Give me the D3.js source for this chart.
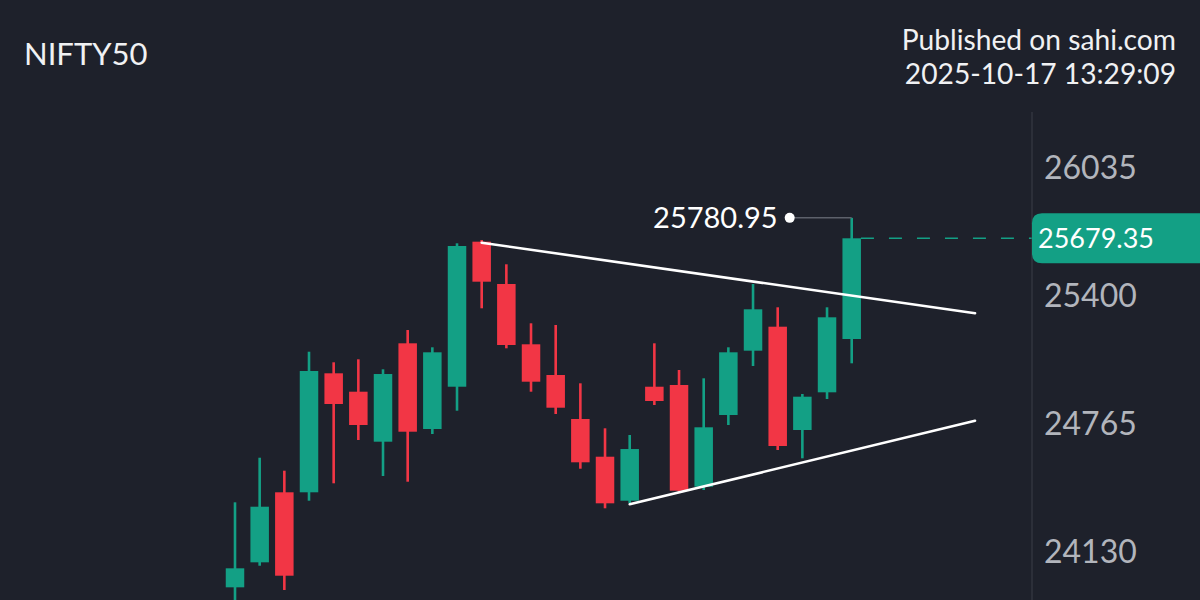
<!DOCTYPE html>
<html>
<head>
<meta charset="utf-8">
<script src="https://cdn.jsdelivr.net/npm/d3@7"></script>
<style>
  html, body { margin: 0; padding: 0; background: #1e212b; }
  svg { display: block; }
  text { font-family: Lato, "Open Sans", sans-serif; }
</style>
</head>
<body>
<svg id="chart" width="1200" height="600"></svg>
<script>
// ---- Data ----
const title = "NIFTY50";
const publishedLines = ["Published on sahi.com", "2025-10-17 13:29:09"];

const opens  = [23945.6, 24069.8, 24417.6, 24417.6, 25008.7, 24917.3, 24669.0, 25157.7, 24732.0, 24942.1,
                25662.5, 25452.3, 25152.8, 25000.3, 24781.7, 24594.4, 24375.8, 24942.1, 24950.6, 24445.4,
                24801.6, 25121.0, 25240.2, 24727.1, 24914.3, 25179.1];
const highs  = [24367.9, 24589.4, 24524.9, 25116.0, 25063.4, 25078.3, 25028.6, 25223.8, 25137.9, 25654.5,
                25670.9, 25550.2, 25257.1, 25248.7, 24959.0, 24735.5, 24702.2, 25157.7, 25025.1, 24983.9,
                25137.9, 25452.3, 25336.6, 24905.9, 25336.6, 25780.95];
const lows   = [23857.7, 24052.9, 23932.2, 24375.8, 24462.3, 24677.4, 24498.5, 24470.2, 24707.2, 24822.9,
                25331.6, 25132.9, 24917.3, 24806.5, 24534.8, 24338.1, 24364.4, 24851.2, 24416.6, 24429.0,
                24751.9, 25045.0, 24627.7, 24586.5, 24881.1, 25058.4];
const closes = [24040.0, 24346.0, 24003.3, 25020.2, 24856.2, 24751.9, 25005.2, 24718.6, 25113.0, 25641.1,
                25463.8, 25149.3, 24967.0, 24837.8, 24566.6, 24362.9, 24632.6, 24871.1, 24425.5, 24740.5,
                25113.0, 25326.6, 24647.6, 24892.5, 25286.9, 25679.35];

const tickValues = [26035, 25400, 24765, 24130];
const lastPrice = 25679.35;
const highMark = 25780.95;

// Trend lines: [candle index, price]
const upperTrend = [[10, 25657.5], [30, 25306.8]];
const lowerTrend = [[16, 24358.0], [30, 24773.2]];

// ---- Colours ----
const bg = "#1e212b";
const up = "#13a085";
const down = "#f23645";

// ---- Scales ----
const x = d3.scaleLinear().domain([0, 25]).range([235, 851.7]);
const y = d3.scaleLinear().domain([24130, 26035]).range([550.2, 166.7]);

const svg = d3.select("#chart");
svg.append("rect").attr("width", 1200).attr("height", 600).attr("fill", bg);

const candles = opens.map((o, i) => ({ i, o, h: highs[i], l: lows[i], c: closes[i] }));

const plot = svg.append("g");

// wicks
plot.selectAll("line.wick").data(candles).join("line")
  .attr("class", "wick")
  .attr("x1", d => x(d.i)).attr("x2", d => x(d.i))
  .attr("y1", d => y(d.h)).attr("y2", d => y(d.l))
  .attr("stroke", d => d.c >= d.o ? up : down)
  .attr("stroke-width", 2.6);

// bodies
const bodyW = 18.5;
plot.selectAll("rect.body").data(candles).join("rect")
  .attr("class", "body")
  .attr("x", d => x(d.i) - bodyW / 2)
  .attr("width", bodyW)
  .attr("y", d => y(Math.max(d.o, d.c)))
  .attr("height", d => Math.max(1, Math.abs(y(d.o) - y(d.c))))
  .attr("fill", d => d.c >= d.o ? up : down);

// trend lines
const line = d3.line().x(d => x(d[0])).y(d => y(d[1]));
[upperTrend, lowerTrend].forEach(t => {
  plot.append("path").attr("d", line(t))
    .attr("stroke", "#ffffff").attr("stroke-width", 2.6)
    .attr("fill", "none").attr("stroke-linecap", "round");
});

// high marker
const last = candles[candles.length - 1];
const hx = x(last.i);
plot.append("line")
  .attr("x1", hx - 62).attr("x2", hx)
  .attr("y1", y(highMark)).attr("y2", y(highMark))
  .attr("stroke", "#5d616b").attr("stroke-width", 1.5);
plot.append("circle")
  .attr("cx", hx - 62).attr("cy", y(highMark)).attr("r", 5)
  .attr("fill", "#ffffff");
plot.append("text")
  .attr("x", hx - 74).attr("y", y(highMark) + 10)
  .attr("text-anchor", "end")
  .attr("fill", "#ffffff")
  .attr("font-size", 29)
  .text(d3.format(".2f")(highMark));

// last price dashed line
const axisX = 1032;
plot.append("line")
  .attr("x1", hx + bodyW / 2).attr("x2", axisX)
  .attr("y1", y(lastPrice)).attr("y2", y(lastPrice))
  .attr("stroke", up).attr("stroke-width", 1.5)
  .attr("stroke-dasharray", "13,15");

// right axis
svg.append("line")
  .attr("x1", axisX).attr("x2", axisX)
  .attr("y1", 112).attr("y2", 600)
  .attr("stroke", "#3a3e48").attr("stroke-width", 1);

const axis = d3.axisRight(y).tickValues(tickValues).tickSize(0).tickPadding(12).tickFormat(d3.format("d"));
const gAxis = svg.append("g").attr("transform", `translate(${axisX},0)`).call(axis);
gAxis.select(".domain").remove();
gAxis.selectAll("text")
  .attr("fill", "#b2b5bc")
  .attr("font-size", 32)
  .attr("font-family", "Lato, sans-serif")
  .attr("dy", "0.38em");

// last price badge
const by = y(lastPrice);
const bTop = by - 25, bBot = by + 25, r = 10;
svg.append("path")
  .attr("d", `M1200,${bTop} L${axisX + r},${bTop} Q${axisX},${bTop} ${axisX},${bTop + r} L${axisX},${bBot - r} Q${axisX},${bBot} ${axisX + r},${bBot} L1200,${bBot} Z`)
  .attr("fill", up);
svg.append("text")
  .attr("x", axisX + 6).attr("y", by + 10)
  .attr("fill", "#ffffff")
  .attr("font-size", 27)
  .text(d3.format(".2f")(lastPrice));

// title
svg.append("text")
  .attr("x", 24).attr("y", 65)
  .attr("fill", "#f0f1f3")
  .attr("font-size", 31)
  .text(title);

// published
svg.selectAll("text.pub").data(publishedLines).join("text")
  .attr("class", "pub")
  .attr("x", 1176).attr("y", (d, i) => 50 + i * 34)
  .attr("text-anchor", "end")
  .attr("fill", "#f0f1f3")
  .attr("font-size", 28.2)
  .text(d => d);
</script>
</body>
</html>
